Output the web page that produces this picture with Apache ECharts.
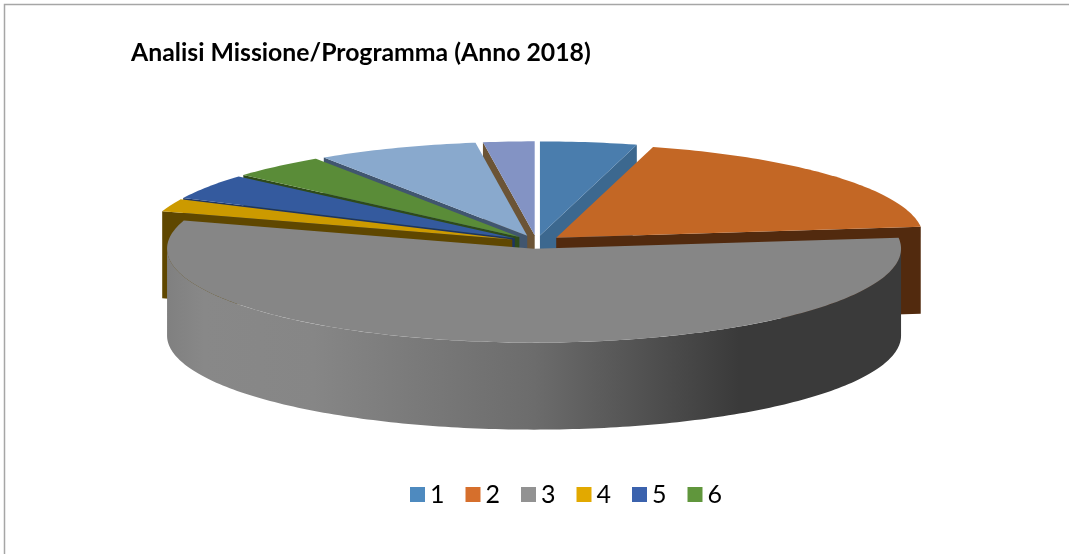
<!DOCTYPE html>
<html>
<head>
<meta charset="utf-8">
<style>
  html, body { margin: 0; padding: 0; background: #fff; }
  #chart { width: 1069px; height: 554px; }
</style>
<script src="https://cdn.jsdelivr.net/npm/echarts@6/dist/echarts.min.js"></script>
</head>
<body>
<div id="chart"></div>
<script>
const categories = ['1', '2', '3', '4', '5', '6', '7', '8'];
const values = [4.25, 18.9, 56.7, 2.2, 4.4, 4.2, 7.1, 2.25];
const legendItems = ['1', '2', '3', '4', '5', '6'];
const legendColors = ['#4e8abf', '#d66f2c', '#929292', '#e2a900', '#3b62ad', '#60963c', '#89a9cd', '#8393c4'];
const topColors = ['#4a7dad', '#c36725', '#868686', '#cc9a00', '#345a9e', '#5a8c38', '#89a9cd', '#8393c4'];
const wallColors = ['#3c688f', '#522a0e', '#3a3a3a', '#5f4700', '#1d3463', '#2e4a1a', '#41566f', '#6b5436'];
// back to front, later slices cover the walls of earlier ones
const drawOrder = [0, 7, 6, 5, 4, 3, 1, 2];

const cx = 536.5, cy = 242, rx = 367, ry = 94, depth = 87, explode = 26;

const total = values.reduce((a, b) => a + b, 0);
const starts = [];
values.reduce((acc, v, i) => { starts[i] = acc; return acc + v / total * 360; }, 0);

const rad = d => d * Math.PI / 180;

function renderSlice(i) {
  const a0 = starts[i];
  const a1 = a0 + values[i] / total * 360;
  const mid = (a0 + a1) / 2;
  const ox = cx + explode * Math.sin(rad(mid));
  const oy = cy - explode * Math.cos(rad(mid)) * ry / rx;
  const pt = a => [ox + rx * Math.sin(rad(a)), oy - ry * Math.cos(rad(a))];
  const down = p => [p[0], p[1] + depth];
  const arc = (from, to) => {
    const out = [];
    for (let a = from; a < to; a += 1) out.push(pt(a));
    out.push(pt(to));
    return out;
  };
  const kids = [];
  const poly = (points, fill) => kids.push({
    type: 'polygon',
    shape: { points },
    style: { fill, stroke: null }
  });
  const centre = [ox, oy];
  // side cuts, only the ones facing the viewer
  if (Math.cos(rad(a0 - 90)) < 0) {
    poly([centre, pt(a0), down(pt(a0)), down(centre)], wallColors[i]);
  }
  if (Math.cos(rad(a1 + 90)) < 0) {
    poly([centre, pt(a1), down(pt(a1)), down(centre)], wallColors[i]);
  }
  // outer rim on the front half
  const r0 = Math.max(a0, 90), r1 = Math.min(a1, 270);
  if (r1 > r0) {
    const rim = arc(r0, r1);
    poly(rim.concat(rim.slice().reverse().map(down)), {
      type: 'linear', x: ox - rx, y: 0, x2: ox + rx, y2: 0, global: true,
      colorStops: [
        { offset: 0, color: '#808080' },
        { offset: 0.05, color: '#888888' },
        { offset: 0.2, color: '#868686' },
        { offset: 0.5, color: '#6c6c6c' },
        { offset: 0.78, color: '#3a3a3a' },
        { offset: 1, color: '#3a3a3a' }
      ]
    });
  }
  poly([centre].concat(arc(a0, a1)), topColors[i]);
  return { type: 'group', children: kids };
}

const chart = echarts.init(document.getElementById('chart'));
chart.setOption({
  animation: false,
  backgroundColor: '#fff',
  title: {
    text: 'Analisi Missione/Programma (Anno 2018)',
    left: 131,
    top: 41,
    padding: 0,
    textStyle: { fontFamily: 'Lato', fontSize: 24.8, fontWeight: 'bold', color: '#000' }
  },
  legend: {
    data: legendItems,
    left: 410,
    top: 482,
    padding: 0,
    icon: 'rect',
    itemWidth: 15,
    itemHeight: 15,
    itemGap: 21,
    selectedMode: false,
    textStyle: { fontFamily: 'Lato', fontSize: 25, color: '#000' }
  },
  graphic: [
    { type: 'polyline', silent: true, shape: { points: [[4.5, 554], [4.5, 4.5], [1069, 4.5]] }, style: { stroke: '#a6a6a6', lineWidth: 1.5, fill: null } }
  ],
  series: drawOrder.map(i => ({
    type: 'custom',
    name: categories[i],
    coordinateSystem: 'none',
    silent: true,
    itemStyle: { color: legendColors[i] },
    data: [values[i]],
    renderItem: () => renderSlice(i)
  }))
});
</script>
</body>
</html>
